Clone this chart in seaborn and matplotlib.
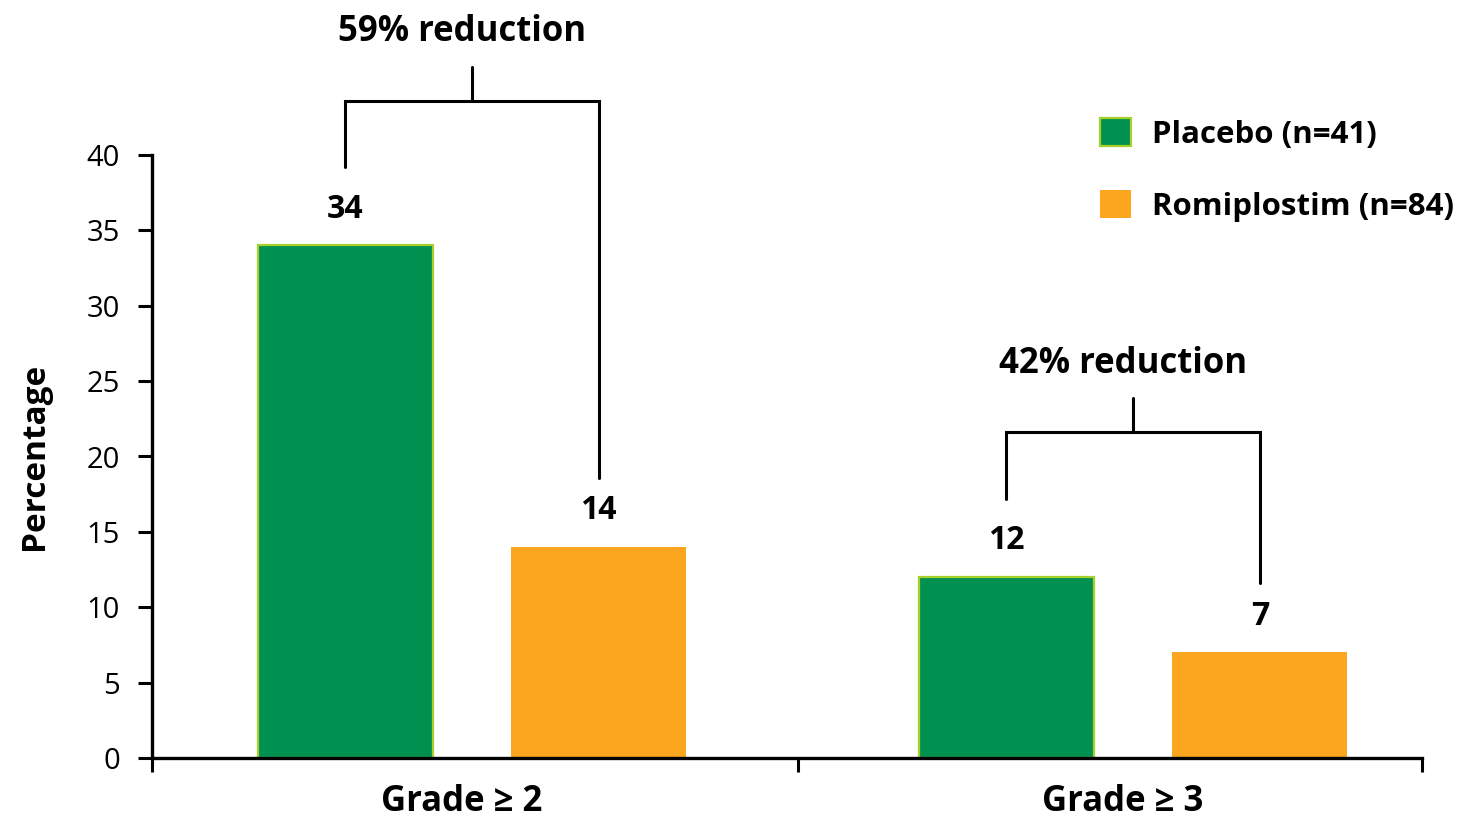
import matplotlib
matplotlib.use("Agg")
import matplotlib.pyplot as plt
import matplotlib.transforms as mtransforms
import pandas as pd
import seaborn as sns

# ---- data ----
grades = ["Grade \u2265 2", "Grade \u2265 3"]
groups = ["Placebo (n=41)", "Romiplostim (n=84)"]
placebo = [34, 12]
romiplostim = [14, 7]
reductions = ["59% reduction", "42% reduction"]
y_ticks = [0, 5, 10, 15, 20, 25, 30, 35, 40]

GREEN = "#009150"
GREEN_EDGE = "#a8cf2a"
ORANGE = "#fba61e"
FONT = ["Open Sans", "DejaVu Sans"]

sns.set_theme(style="white")
plt.rcParams["font.family"] = FONT
plt.rcParams["text.color"] = "black"
plt.rcParams["axes.labelcolor"] = "black"
plt.rcParams["xtick.color"] = "black"
plt.rcParams["ytick.color"] = "black"

df = pd.DataFrame({
    "grade": grades * 2,
    "group": [groups[0]] * 2 + [groups[1]] * 2,
    "value": placebo + romiplostim,
})

fig = plt.figure(figsize=(14.58, 8.21), dpi=100)
ax = fig.add_axes([152 / 1458, 1 - 758 / 821, (1422 - 152) / 1458, (758 - 155) / 821])

sns.barplot(data=df, x="grade", y="value", hue="group", order=grades,
            hue_order=groups, palette=[GREEN, ORANGE], width=0.767, gap=0.31,
            saturation=1, ax=ax, legend=True)

# thin lime outline on the placebo bars
for bar in ax.containers[0]:
    bar.set_edgecolor(GREEN_EDGE)
    bar.set_linewidth(1.6)
for bar in ax.containers[1]:
    bar.set_linewidth(0)

ax.set_ylim(0, 40)
ax.set_xlim(-0.484, 1.437)
ax.set_yticks(y_ticks)
ax.tick_params(axis="y", which="major", direction="out", length=10, width=2.2,
               pad=13, labelsize=21, colors="black", left=True)
ax.set_xticks(range(len(grades)))
ax.set_xticklabels(grades, fontsize=25, fontweight="bold")
ax.tick_params(axis="x", which="major", length=0, pad=19)
shift = mtransforms.ScaledTranslation(-10 / 100, 0, fig.dpi_scale_trans)
for lbl in ax.get_xticklabels():
    lbl.set_transform(lbl.get_transform() + shift)
ax.set_xticks([-0.484, 0.493, 1.437], minor=True)
ax.tick_params(axis="x", which="minor", direction="out", length=10, width=2.2,
               bottom=True, colors="black")

ax.set_xlabel("")
ax.set_ylabel("Percentage", fontsize=24, fontweight="bold", labelpad=26)

for side in ["top", "right"]:
    ax.spines[side].set_visible(False)
for side in ["left", "bottom"]:
    ax.spines[side].set_color("black")
    ax.spines[side].set_linewidth(2.4)

# value labels above bars
for container, values in zip(ax.containers, [placebo, romiplostim]):
    for bar, v in zip(container, values):
        cx = bar.get_x() + bar.get_width() / 2
        ax.text(cx, v + 2.4, f"{v}", ha="center", va="center",
                fontsize=23, fontweight="bold", color="black")

# reduction brackets
for i, text in enumerate(reductions):
    b_left = ax.containers[0][i]
    b_right = ax.containers[1][i]
    x1 = b_left.get_x() + b_left.get_width() / 2
    x2 = b_right.get_x() + b_right.get_width() / 2
    xm = (x1 + x2) / 2
    top = placebo[i] + 9.6
    ax.plot([x1, x1, x2, x2], [placebo[i] + 5.2, top, top, romiplostim[i] + 4.6],
            color="black", lw=2.2, clip_on=False, solid_joinstyle="miter")
    ax.plot([xm, xm], [top, top + 2.25], color="black", lw=2.2, clip_on=False)
    ax.text(xm - 0.015, top + 4.55, text, ha="center", va="center",
            fontsize=25, fontweight="bold", color="black", clip_on=False)

# legend
handles, labels = ax.get_legend_handles_labels()
for h in handles:
    h.set_linewidth(0)
handles[0].set_edgecolor(GREEN_EDGE)
handles[0].set_linewidth(1.6)
leg = ax.legend(handles, labels, loc="upper left",
                bbox_to_anchor=(1100 / 1458, 1 - 118 / 821),
                bbox_transform=fig.transFigure, frameon=False,
                handlelength=1.0, handleheight=1.0, handletextpad=0.65,
                labelspacing=1.3, borderpad=0, borderaxespad=0,
                prop={"family": FONT, "size": 22.5, "weight": "bold"})
for t in leg.get_texts():
    t.set_color("black")

fig.savefig("out.png", dpi=100, facecolor="white")
